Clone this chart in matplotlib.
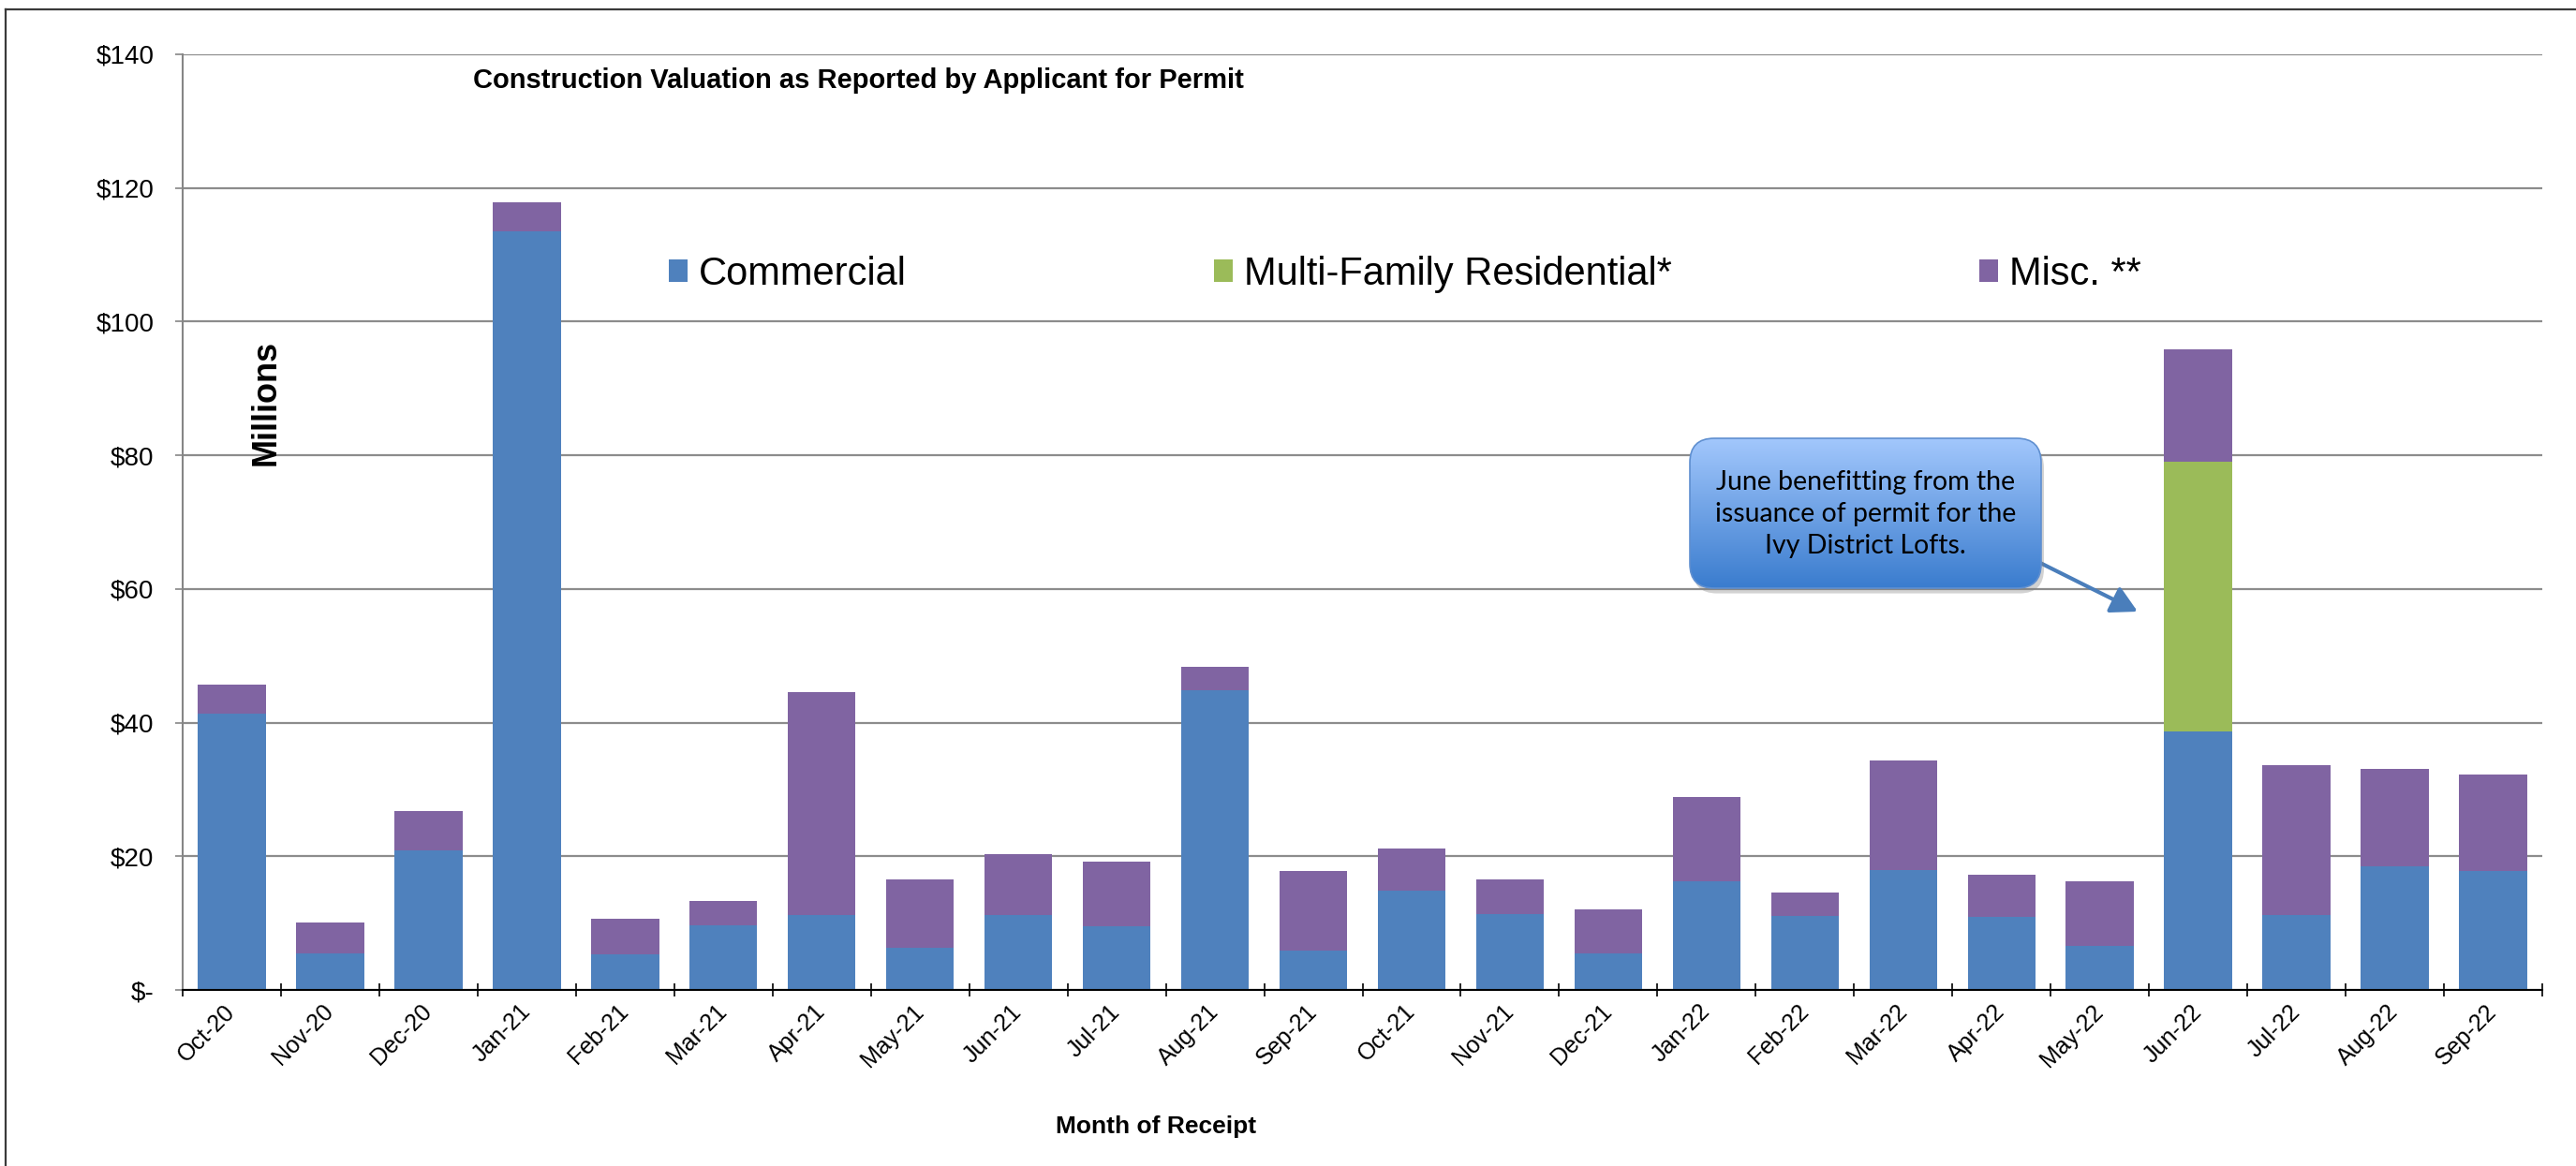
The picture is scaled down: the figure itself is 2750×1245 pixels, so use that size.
import matplotlib
matplotlib.use("Agg")
import matplotlib.pyplot as plt
import numpy as np
from matplotlib.patches import FancyBboxPatch, Patch
from matplotlib.lines import Line2D

# ---------------- data ----------------
months = ['Oct-20', 'Nov-20', 'Dec-20', 'Jan-21', 'Feb-21', 'Mar-21', 'Apr-21',
          'May-21', 'Jun-21', 'Jul-21', 'Aug-21', 'Sep-21', 'Oct-21', 'Nov-21',
          'Dec-21', 'Jan-22', 'Feb-22', 'Mar-22', 'Apr-22', 'May-22', 'Jun-22',
          'Jul-22', 'Aug-22', 'Sep-22']
commercial = [41.3, 5.5, 20.9, 113.5, 5.3, 9.7, 11.2, 6.3, 11.2, 9.5, 44.8, 5.9,
              14.9, 11.4, 5.5, 16.2, 11.1, 17.9, 11.0, 6.6, 38.7, 11.2, 18.5, 17.8]
multifamily = [0, 0, 0, 0, 0, 0, 0, 0, 0, 0, 0, 0,
               0, 0, 0, 0, 0, 0, 0, 0, 40.3, 0, 0, 0]
misc = [4.4, 4.6, 5.8, 4.3, 5.4, 3.6, 33.3, 10.3, 9.1, 9.7, 3.5, 11.9,
        6.3, 5.2, 6.5, 12.7, 3.5, 16.4, 6.3, 9.7, 16.9, 22.4, 14.6, 14.4]
series_names = ['Commercial', 'Multi-Family Residential*', 'Misc. **']
y_ticks = [0, 20, 40, 60, 80, 100, 120, 140]
y_tick_labels = ['$-', '$20', '$40', '$60', '$80', '$100', '$120', '$140']
title = 'Construction Valuation as Reported by Applicant for Permit'
callout_text = 'June benefitting from the\nissuance of permit for the\nIvy District Lofts.'

# ---------------- style ----------------
W, H = 2750, 1245
C_BLUE, C_GREEN, C_PURPLE = '#4F81BD', '#9BBB59', '#8064A2'
plt.rcParams['font.family'] = ['Liberation Sans', 'DejaVu Sans']

fig = plt.figure(figsize=(W / 100, H / 100), dpi=100)
fig.patch.set_facecolor('white')

# axes placement (pixel geometry of reference)
ax_l, ax_r, ax_t, ax_b = 195, 2714, 58, 1057
ax = fig.add_axes([ax_l / W, 1 - ax_b / H, (ax_r - ax_l) / W, (ax_b - ax_t) / H])

x = np.arange(len(months))
com = np.array(commercial)
mf = np.array(multifamily)
ms = np.array(misc)
bw = 0.69
ax.bar(x, com, width=bw, color=C_BLUE, edgecolor='none', zorder=3)
ax.bar(x, mf, width=bw, bottom=com, color=C_GREEN, edgecolor='none', zorder=3)
ax.bar(x, ms, width=bw, bottom=com + mf, color=C_PURPLE, edgecolor='none', zorder=3)

ax.set_xlim(-0.5, len(months) - 0.5)
ax.set_ylim(0, 140)

# grid
ax.set_yticks(y_ticks)
ax.set_yticklabels(y_tick_labels)
ax.yaxis.grid(True, color='#8C8C8C', lw=1.6)
ax.set_axisbelow(True)

# spines
for s in ['top', 'right']:
    ax.spines[s].set_visible(False)
ax.spines['left'].set_color('#868686')
ax.spines['left'].set_linewidth(1.5)
ax.spines['bottom'].set_color('black')
ax.spines['bottom'].set_linewidth(1.5)
ax.spines['bottom'].set_zorder(4)

# y ticks
ax.tick_params(axis='y', which='major', direction='out', length=6, width=1.2,
               color='#868686', labelsize=20, pad=16)

# x ticks: boundaries as major ticks, labels on minor ticks at centers
ax.set_xticks(np.arange(-0.5, len(months), 1.0))
ax.set_xticklabels([])
ax.set_xticks(x, minor=True)
ax.set_xticklabels(months, minor=True, rotation=45, ha='right', va='center',
                   rotation_mode='anchor', fontsize=18)
ax.tick_params(axis='x', which='major', direction='inout', length=10, width=1.2,
               color='black')
ax.tick_params(axis='x', which='minor', length=0, pad=14)

# texts
fig.text(505 / W, 1 - 86 / H, title, ha='left', va='center', fontsize=21,
         fontweight='bold')
fig.text(284 / W, 1 - 430 / H, 'Millions', rotation=90, ha='center', va='center',
         fontsize=26, fontweight='bold')
fig.text(1234 / W, 1 - 1203 / H, 'Month of Receipt', ha='center', va='center',
         fontsize=19, fontweight='bold')

# legend
handles = [Patch(facecolor=c, edgecolor='none') for c in (C_BLUE, C_GREEN, C_PURPLE)]
fig.legend(handles, series_names, loc='center left',
           bbox_to_anchor=(714 / W, 1 - 293 / H), ncol=3, frameon=False,
           fontsize=30, handlelength=0.48, handleheight=0.5, handletextpad=0.29,
           columnspacing=7.87, borderpad=0, borderaxespad=0)

# callout box with gradient
bx0, bx1, by_top, by_bot = 1804, 2179, 468, 628
cax = fig.add_axes([bx0 / W, 1 - by_bot / H, (bx1 - bx0) / W, (by_bot - by_top) / H])
cax.set_axis_off()
cax.set_xlim(0, 1)
cax.set_ylim(0, 1)
bw_px, bh_px = bx1 - bx0, by_bot - by_top
rs = 26 / bw_px
shadow = FancyBboxPatch((0.008, -0.035), 1, 1,
                        boxstyle=f'round,pad=0,rounding_size={rs}',
                        mutation_aspect=bw_px / bh_px, transform=cax.transAxes,
                        facecolor='#808080', edgecolor='none', alpha=0.35,
                        clip_on=False, zorder=1)
cax.add_patch(shadow)
box = FancyBboxPatch((0, 0), 1, 1, boxstyle=f'round,pad=0,rounding_size={rs}',
                     mutation_aspect=bw_px / bh_px, transform=cax.transAxes,
                     facecolor='none', edgecolor='#5F8FD0', lw=1.2,
                     clip_on=False, zorder=3)
cax.add_patch(box)
top_c = np.array([162, 199, 252]) / 255
bot_c = np.array([58, 124, 206]) / 255
t = np.linspace(0, 1, 256)[:, None]
grad = (top_c[None, :] * (1 - t) + bot_c[None, :] * t)[:, None, :]
im = cax.imshow(grad, extent=[0, 1, 0, 1], aspect='auto', origin='upper',
                transform=cax.transAxes, zorder=2)
im.set_clip_path(box)
cax.text(0.5, (by_bot - 549) / bh_px, callout_text, ha='center', va='center',
         fontsize=20.5, family=['Lato', 'DejaVu Sans'], linespacing=1.38,
         color='black', zorder=4, transform=cax.transAxes)

# arrow from callout to June bar
def px2data(px, py):
    xd = (px - ax_l) / (ax_r - ax_l) * len(months) - 0.5
    yd = (ax_b - py) / (ax_b - ax_t) * 140
    return xd, yd

ax.annotate('', xy=px2data(2282, 653), xytext=px2data(2178, 601),
            arrowprops=dict(arrowstyle='-|>,head_length=0.7,head_width=0.38',
                            color='#4A7EBB', lw=3, shrinkA=0, shrinkB=0,
                            mutation_scale=24),
            annotation_clip=False, zorder=6)

# figure frame (partially visible border)
fig.add_artist(Line2D([6 / W, 1.01], [1 - 10 / H, 1 - 10 / H], transform=fig.transFigure,
                      color='#3A3A3A', lw=1.6))
fig.add_artist(Line2D([6 / W, 6 / W], [-0.01, 1 - 10 / H], transform=fig.transFigure,
                      color='#3A3A3A', lw=1.6))

fig.savefig('out.png', dpi=100, facecolor='white')
